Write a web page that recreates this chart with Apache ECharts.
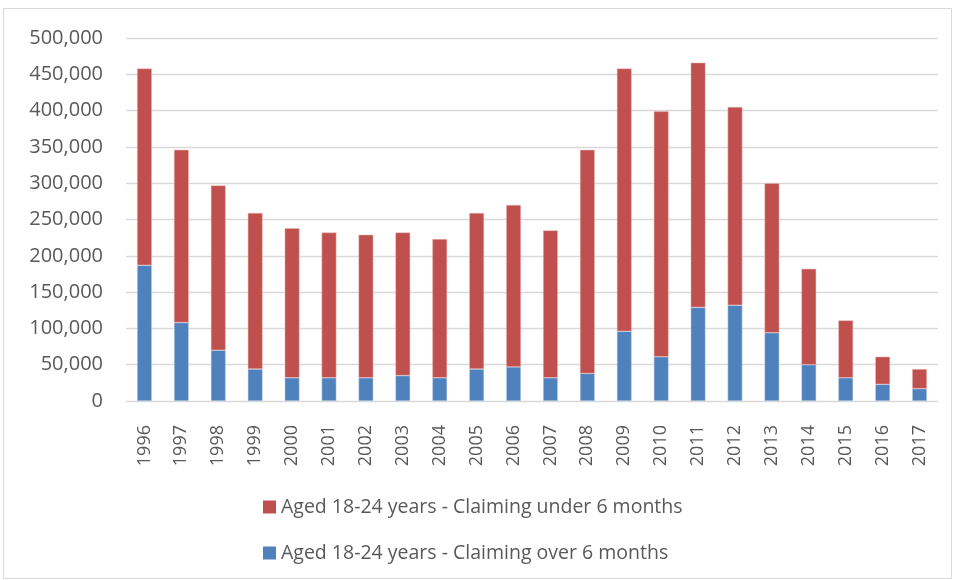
<!DOCTYPE html>
<html><head><meta charset="utf-8">
<script src="https://cdn.jsdelivr.net/npm/echarts@6/dist/echarts.min.js"></script>
<style>html,body{margin:0;padding:0;background:#fff;}#c{width:955px;height:580px;}</style>
</head><body><div id="c"></div>
<script>
const years = ['1996','1997','1998','1999','2000','2001','2002','2003','2004','2005','2006','2007','2008','2009','2010','2011','2012','2013','2014','2015','2016','2017'];
const overSix = [187000,108000,70000,44000,32000,32000,32000,35000,32000,44000,47000,32000,38000,96000,61000,129000,132000,94000,50000,32000,23000,17000];
const underSix = [271000,238000,227000,215000,206000,200000,197000,197000,191000,215000,223000,203000,308000,362000,338000,337000,273000,206000,132000,79000,38000,27000];
const nameUnder = 'Aged 18-24 years - Claiming under 6 months';
const nameOver = 'Aged 18-24 years - Claiming over 6 months';
const yTicks = [0,50000,100000,150000,200000,250000,300000,350000,400000,450000,500000];

const font = 'Open Sans';
const chart = echarts.init(document.getElementById('c'));
chart.setOption({
  animation: false,
  graphic: [{type:'rect', shape:{x:3.5,y:8.5,width:948,height:570}, style:{fill:'none',stroke:'#d9d9d9',lineWidth:1}}],
  grid: {left:126, right:17, top:38, bottom:179, containLabel:false},
  legend: {
    orient:'vertical', left:263, top:497, padding:0, itemGap:26,
    itemWidth:13, itemHeight:13, icon:'rect',
    itemStyle:{borderWidth:0},
    data:[nameUnder, nameOver],
    textStyle:{fontFamily:font, fontSize:19.5, color:'#595959'}
  },
  xAxis: {
    type:'category', data:years,
    axisTick:{show:false},
    axisLine:{lineStyle:{color:'#d9d9d9', width:1}},
    axisLabel:{rotate:90, margin:16, padding:[0,8,0,0], fontFamily:font, fontSize:18, color:'#595959'}
  },
  yAxis: {
    type:'value', min:yTicks[0], max:yTicks[yTicks.length-1], interval:50000,
    axisLine:{show:false}, axisTick:{show:false},
    splitLine:{lineStyle:{color:'#d9d9d9', width:1.3}},
    axisLabel:{margin:23, fontFamily:font, fontSize:20, color:'#595959',
      formatter: v => v.toLocaleString('en-US')}
  },
  series: [
    {name:nameOver, type:'bar', stack:'t', data:overSix, barWidth:'40%',
     itemStyle:{color:'#4F81BD', borderColor:'#c9d6ea', borderWidth:0.5}},
    {name:nameUnder, type:'bar', stack:'t', data:underSix, barWidth:'40%',
     itemStyle:{color:'#C0504D', borderColor:'#e6bcbb', borderWidth:0.5}}
  ]
});
</script></body></html>
